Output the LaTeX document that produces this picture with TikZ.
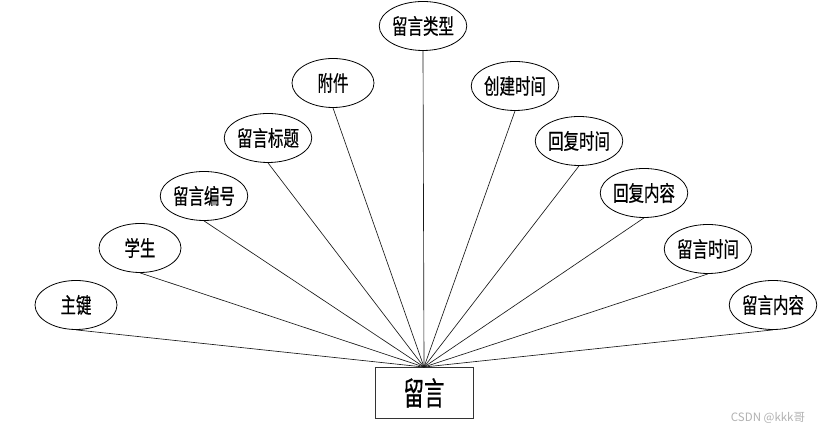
\documentclass[tikz,border=0pt]{standalone}
\usepackage{fontspec}
\usepackage{graphicx}
\setmainfont{Noto Sans CJK SC}
\newfontfamily\cjkm[FakeBold=0.5]{Noto Sans CJK SC}
\usetikzlibrary{shapes.geometric}
\newcommand\narrowtxt[2]{\scalebox{#1}[1]{#2}}
\tikzset{
  attr/.style={draw=black, line width=0.8pt, ellipse, minimum width=82pt, minimum height=49pt, inner sep=0pt,
    font=\cjkm\fontsize{21.5}{23}\selectfont},
  ent/.style={draw=black!80, line width=0.9pt, rectangle, minimum width=98pt, minimum height=51pt, inner sep=0pt,
    font=\cjkm\fontsize{32}{34}\selectfont},
  link/.style={draw=black!90, line width=0.65pt}
}
\begin{document}
\begin{tikzpicture}[x=1pt,y=1pt]
\useasboundingbox[fill=white] (0,0) rectangle (838,435);
\node[attr] (a1) at (76,{435-305}) {\narrowtxt{0.72}{主键}};
\node[attr] (a2) at (140,{435-248}) {\narrowtxt{0.72}{学生}};
\node[attr] (a3) at (204,{435-196}) {\narrowtxt{0.72}{留言编号}};
\node[attr] (a4) at (268,{435-138}) {\narrowtxt{0.72}{留言标题}};
\node[attr] (a5) at (333,{435-83}) {\narrowtxt{0.72}{附件}};
\node[attr] (a6) at (423,{435-26}) {\narrowtxt{0.72}{留言类型}};
\node[attr] (a7) at (515,{435-86}) {\narrowtxt{0.72}{创建时间}};
\node[attr] (a8) at (579,{435-141}) {\narrowtxt{0.72}{回复时间}};
\node[attr] (a9) at (644,{435-193}) {\narrowtxt{0.72}{回复内容}};
\node[attr] (a10) at (708,{435-249}) {\narrowtxt{0.72}{留言时间}};
\node[attr] (a11) at (773,{435-305}) {\narrowtxt{0.72}{留言内容}};
\node[ent] (e) at (424,{435-393}) {\narrowtxt{0.64}{留言}};
\foreach \i in {1,...,11} {
  \draw[link] (a\i.south) -- (e.north);
}
\node[text=black!30, font=\fontsize{11.5}{13}\selectfont, inner sep=0pt] (wm) at (768,{435-418}) {CSDN @kkk哥};
\end{tikzpicture}
\end{document}
